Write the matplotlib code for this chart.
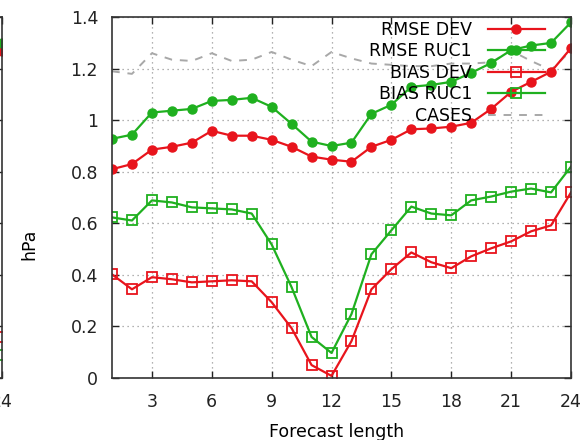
import matplotlib
matplotlib.use("Agg")
import matplotlib.pyplot as plt

hours = list(range(1, 25))

rmse_dev = [0.81, 0.83, 0.886, 0.897, 0.913, 0.959, 0.94, 0.94, 0.924, 0.897, 0.859, 0.847,
            0.839, 0.897, 0.924, 0.965, 0.968, 0.975, 0.99, 1.044, 1.11, 1.149, 1.188, 1.28]
rmse_ruc1 = [0.928, 0.944, 1.03, 1.037, 1.044, 1.075, 1.079, 1.087, 1.052, 0.986, 0.917, 0.90,
             0.913, 1.025, 1.06, 1.13, 1.137, 1.149, 1.184, 1.222, 1.272, 1.29, 1.30, 1.38]
bias_dev = [0.402, 0.344, 0.391, 0.383, 0.371, 0.375, 0.379, 0.375, 0.294, 0.193, 0.05, 0.008,
            0.143, 0.344, 0.422, 0.487, 0.449, 0.426, 0.472, 0.503, 0.53, 0.569, 0.592, 0.72]
bias_ruc1 = [0.623, 0.611, 0.689, 0.681, 0.662, 0.658, 0.654, 0.638, 0.518, 0.352, 0.159, 0.097,
             0.248, 0.48, 0.573, 0.665, 0.638, 0.631, 0.689, 0.704, 0.723, 0.735, 0.72, 0.82]
cases = [1.19, 1.18, 1.26, 1.235, 1.23, 1.26, 1.23, 1.235, 1.265, 1.235, 1.21, 1.265,
         1.24, 1.22, 1.215, 1.21, 1.21, 1.22, 1.22, 1.225, 1.27, 1.23, 1.195, 1.27]

# last points of the neighbouring panel, cut off at the left edge
prev_hour = [24]
prev_rmse_dev = [1.27]
prev_rmse_ruc1 = [1.30]
prev_bias_dev = [0.16]
prev_bias_ruc1 = [0.09]

xticks = [3, 6, 9, 12, 15, 18, 21, 24]
yticks = [0, 0.2, 0.4, 0.6, 0.8, 1.0, 1.2, 1.4]
ytick_labels = ["0", "0.2", "0.4", "0.6", "0.8", "1", "1.2", "1.4"]

RED = "#e8141c"
GREEN = "#1fb01f"
GRAY = "#a8a8a8"
FS = 12.5

plt.rcParams["font.family"] = "DejaVu Sans"
plt.rcParams["font.size"] = FS

fig = plt.figure(figsize=(5.83, 4.4), dpi=100)


def style_axes(ax):
    ax.set_xlim(1, 24)
    ax.set_ylim(0, 1.4)
    ax.set_xticks(xticks)
    ax.set_yticks(yticks)
    ax.set_yticklabels(ytick_labels)
    ax.tick_params(direction="in", top=True, right=True, length=5, width=1,
                   colors="#222222", labelsize=FS)
    ax.tick_params(axis="x", pad=11)
    ax.tick_params(axis="y", pad=10)
    ax.grid(True, linestyle=(0, (1, 3)), color="#999999", linewidth=0.9)
    for s in ax.spines.values():
        s.set_color("#333333")
        s.set_linewidth(1.2)


def draw(ax, x, a, b, c, d, label=True):
    ax.plot(x, a, color=RED, lw=1.6, marker="o", ms=6.5, label="RMSE DEV" if label else None)
    ax.plot(x, b, color=GREEN, lw=1.6, marker="o", ms=6.5, label="RMSE RUC1" if label else None)
    ax.plot(x, c, color=RED, lw=1.6, marker="s", ms=7, mfc="none", mew=1.3,
            label="BIAS DEV" if label else None)
    ax.plot(x, d, color=GREEN, lw=1.6, marker="s", ms=7, mfc="none", mew=1.3,
            label="BIAS RUC1" if label else None)


# partial panel on the left
ax0 = fig.add_axes([(2 - 459) / 583, 0.141, 459 / 583, 0.82])
style_axes(ax0)
draw(ax0, prev_hour, prev_rmse_dev, prev_rmse_ruc1, prev_bias_dev, prev_bias_ruc1, label=False)
ax0.grid(False)
for lbl in ax0.get_yticklabels():
    lbl.set_visible(False)

ax = fig.add_axes([112 / 583, 0.141, 459 / 583, 0.82])
style_axes(ax)
ax.plot(hours, cases, color=GRAY, lw=1.4, linestyle=(0, (4, 4)), label="CASES")
draw(ax, hours, rmse_dev, rmse_ruc1, bias_dev, bias_ruc1)

handles, labels = ax.get_legend_handles_labels()
order = [1, 2, 3, 4, 0]
ax.legend([handles[i] for i in order], [labels[i] for i in order],
          loc="upper right", bbox_to_anchor=(0.943, 0.99), frameon=False,
          markerfirst=False, numpoints=1, handlelength=3.3, handletextpad=0.9,
          labelspacing=0.2, borderaxespad=0, borderpad=0, fontsize=FS)

ax.set_xlabel("Forecast length", fontsize=FS)
ax.xaxis.set_label_coords(0.49, -0.125)
ax.set_ylabel("hPa", fontsize=FS)
ax.yaxis.set_label_coords(-0.16, 0.37)

fig.savefig("out.png", dpi=100)
